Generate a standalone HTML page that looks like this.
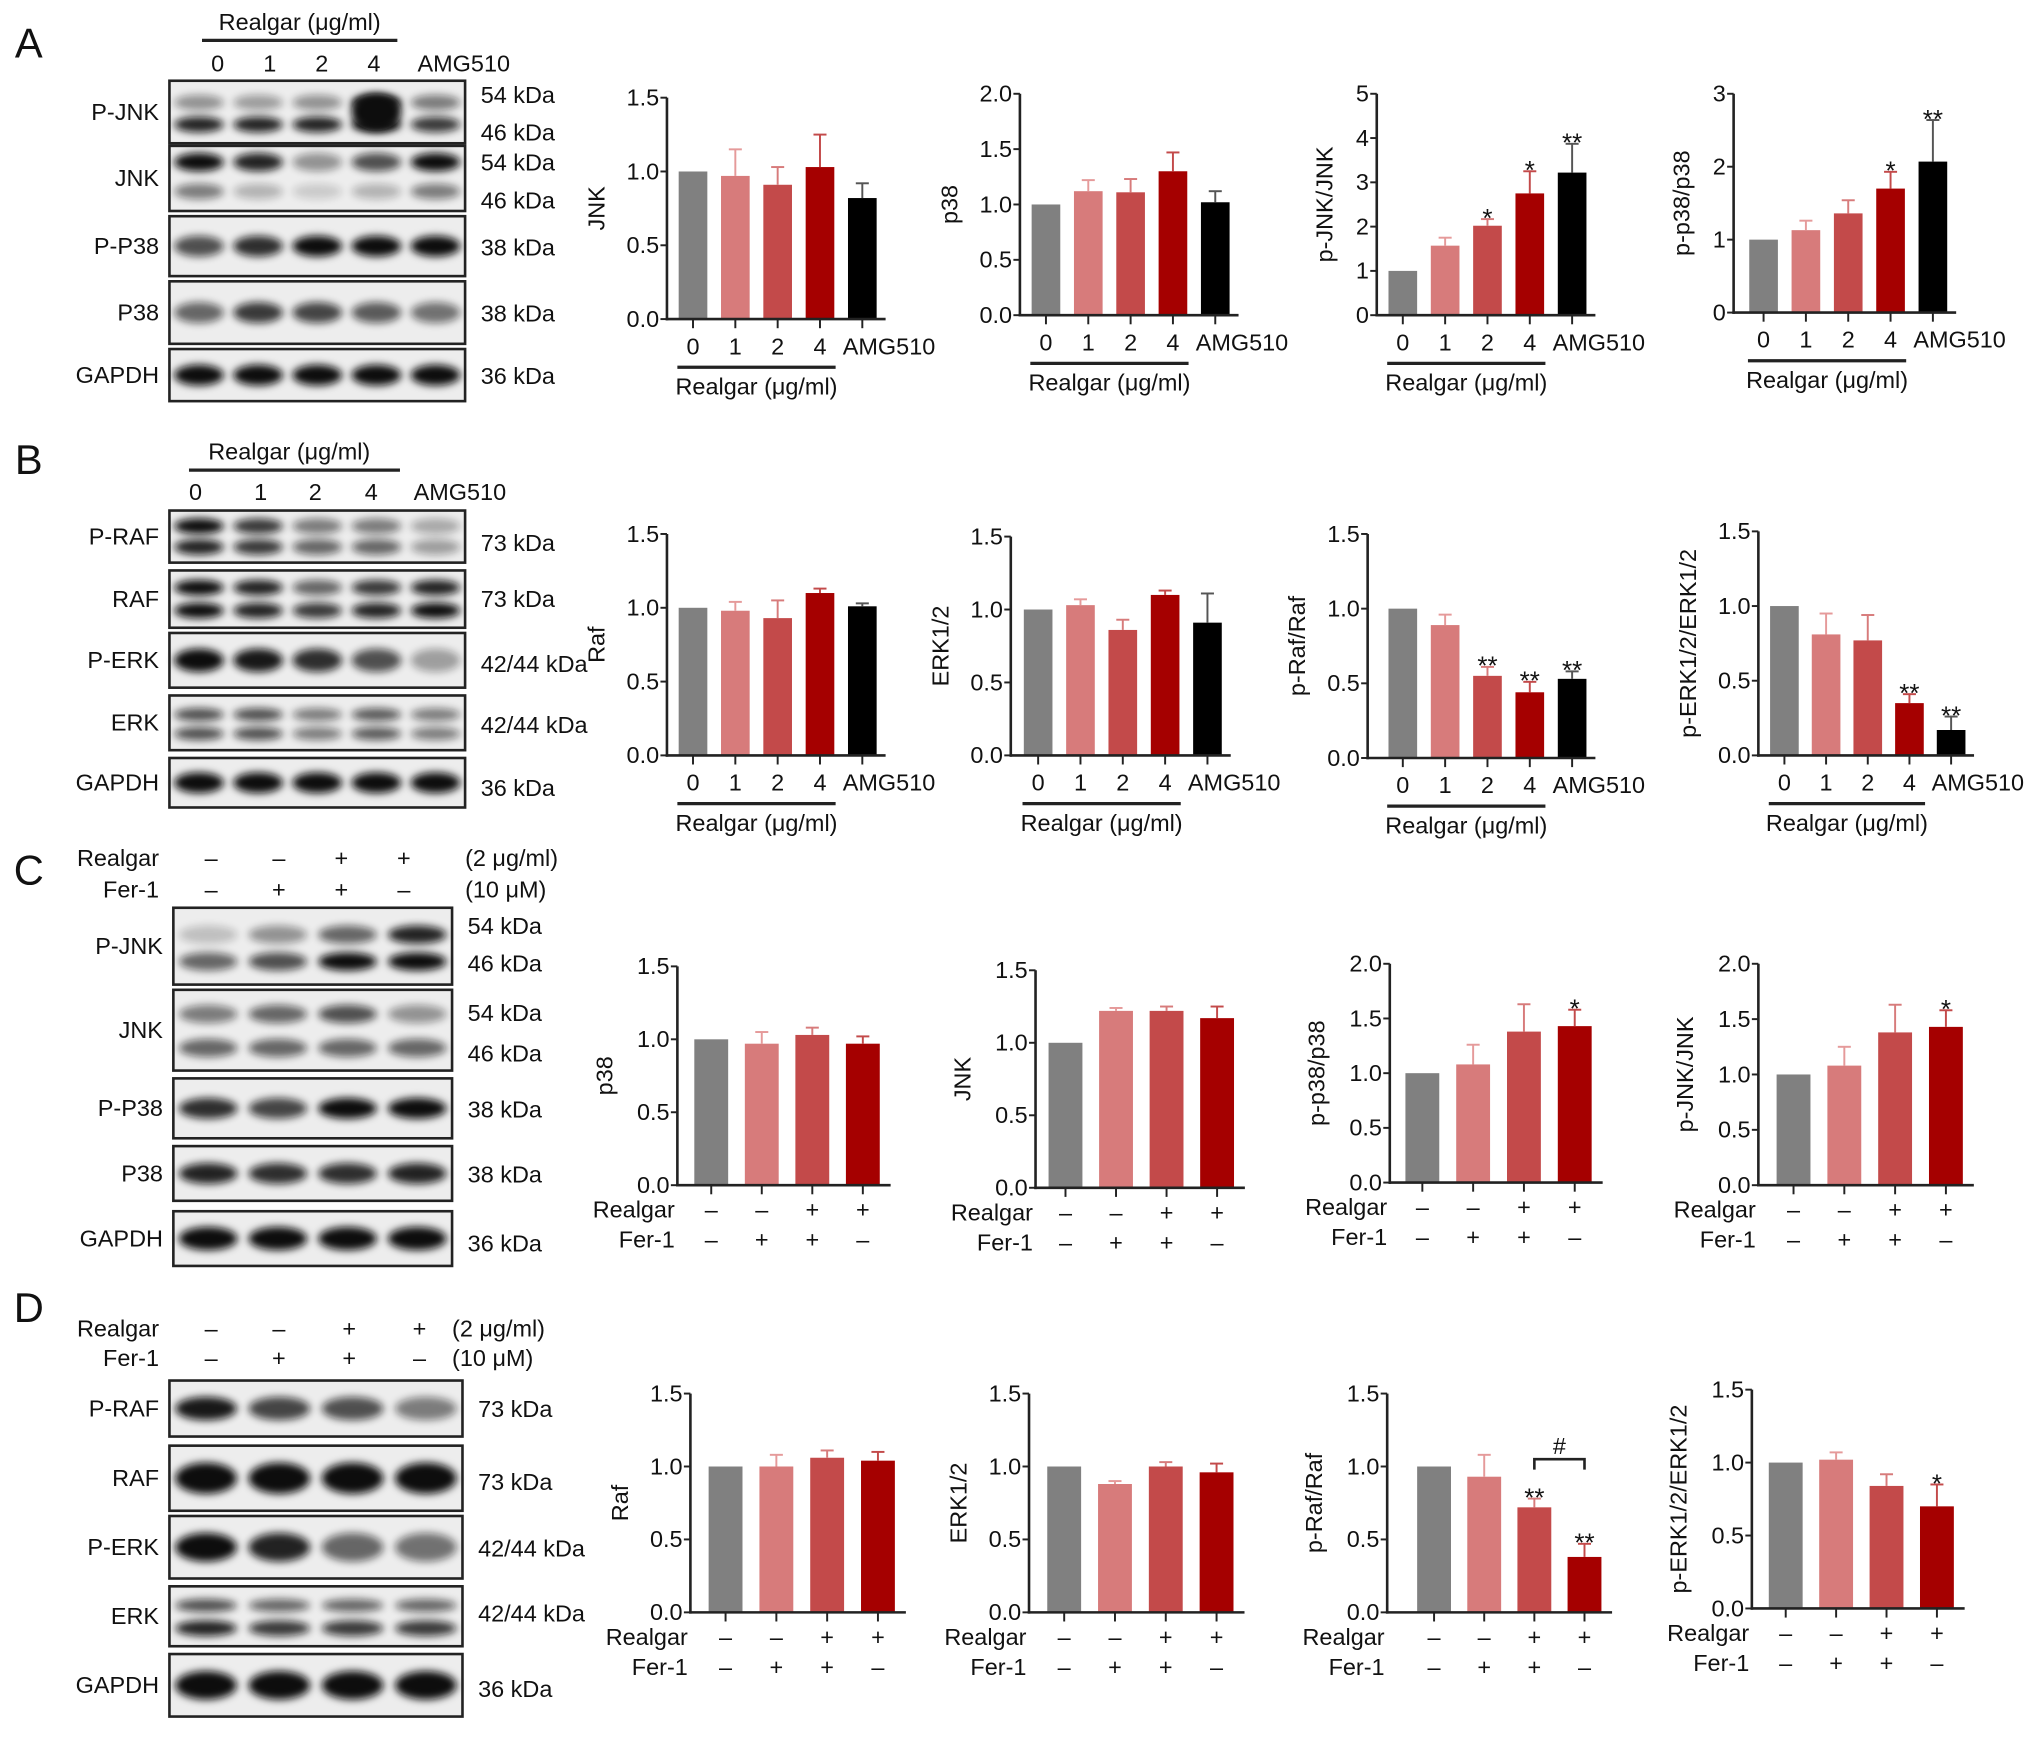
<!DOCTYPE html>
<html><head><meta charset="utf-8"><style>
html,body{margin:0;padding:0;background:#fff;}
svg{display:block;}
text{font-family:"Liberation Sans Narrow","Liberation Sans",sans-serif;fill:#111;}
</style></head><body>
<svg id="fig" width="2032" height="1740" viewBox="0 0 1560 1336" xmlns="http://www.w3.org/2000/svg">
<defs><filter id="blur" x="-30%" y="-80%" width="160%" height="260%"><feGaussianBlur stdDeviation="3"/></filter></defs>
</svg>
<script>
// ---- data ----
const doseCats = ['0','1','2','4','AMG510'];
const realgarSigns = ['–','–','+','+'];
const ferSigns = ['–','+','+','–'];
const aJnkVals=[1.0,0.97,0.91,1.03,0.82], aJnkErr=[0,0.18,0.12,0.22,0.1];
const aP38Vals=[1.0,1.12,1.11,1.3,1.02], aP38Err=[0,0.1,0.12,0.17,0.1];
const aPJnkVals=[1.0,1.57,2.02,2.75,3.22], aPJnkErr=[0,0.18,0.15,0.5,0.65], aPJnkStars=['','','*','*','**'];
const aPP38Vals=[1.0,1.13,1.36,1.7,2.07], aPP38Err=[0,0.13,0.18,0.23,0.57], aPP38Stars=['','','','*','**'];
const bRafVals=[1.0,0.98,0.93,1.1,1.01], bRafErr=[0,0.06,0.12,0.03,0.02];
const bErkVals=[1.0,1.03,0.86,1.1,0.91], bErkErr=[0,0.04,0.07,0.03,0.2];
const bPRafVals=[1.0,0.89,0.55,0.44,0.53], bPRafErr=[0,0.07,0.06,0.07,0.05], bPRafStars=['','','**','**','**'];
const bPErkVals=[1.0,0.81,0.77,0.35,0.17], bPErkErr=[0,0.14,0.17,0.06,0.09], bPErkStars=['','','','**','**'];
const cP38Vals=[1.0,0.97,1.03,0.97], cP38Err=[0,0.08,0.05,0.05];
const cJnkVals=[1.0,1.22,1.22,1.17], cJnkErr=[0,0.02,0.03,0.08];
const cPP38Vals=[1.0,1.08,1.38,1.43], cPP38Err=[0,0.18,0.25,0.15], cPP38Stars=['','','','*'];
const cPJnkVals=[1.0,1.08,1.38,1.43], cPJnkErr=[0,0.17,0.25,0.15], cPJnkStars=['','','','*'];
const dRafVals=[1.0,1.0,1.06,1.04], dRafErr=[0,0.08,0.05,0.06];
const dErkVals=[1.0,0.88,1.0,0.96], dErkErr=[0,0.02,0.03,0.06];
const dPRafVals=[1.0,0.93,0.72,0.38], dPRafErr=[0,0.15,0.06,0.09], dPRafStars=['','','**','**'];
const dPErkVals=[1.0,1.02,0.84,0.7], dPErkErr=[0,0.05,0.08,0.15], dPErkStars=['','','','*'];
const colors=['#808080','#d77b7b','#c34a4a','#a50000','#000000'];
const errColors=['#808080','#e59a9a','#d77b7b','#c34a4a','#555555'];

const svg=document.getElementById('fig');
const NS='http://www.w3.org/2000/svg';
const FS=18;
function mk(tag,attrs,parent,txt){const e=document.createElementNS(NS,tag);for(const k in attrs)e.setAttribute(k,attrs[k]);if(txt!==undefined)e.textContent=txt;(parent||svg).appendChild(e);return e;}
function txt(x,y,s,size,anchor,parent){return mk('text',{x:x,y:y,'font-size':size||FS,'text-anchor':anchor||'middle'},parent,s);}

// panel letters
[['A',22,44],['B',22,364],['C',22,679],['D',22,1015]].forEach(p=>{const t=txt(p[1],p[2],p[0],32,'middle');});

// ---- charts ----
function chart(c){
  const g=mk('g',{});
  
  
  const y=v=>c.yBot-(v/c.max)*(c.yBot-c.yTop);
  const step=c.step, bw=c.bw;
  const cx=i=>c.x0+c.off+i*step;
  const n=c.vals.length;
  c.vals.forEach((v,i)=>{
    const b=mk('rect',{x:cx(i)-bw/2,y:y(v),width:bw,height:c.yBot-y(v),fill:colors[i]},g);
    
    
    const e=c.errs[i];
    if(e>0){
      const ec=errColors[i];
      mk('line',{x1:cx(i),x2:cx(i),y1:y(v),y2:y(v+e),stroke:ec,'stroke-width':1.5},g);
      mk('line',{x1:cx(i)-5,x2:cx(i)+5,y1:y(v+e),y2:y(v+e),stroke:ec,'stroke-width':1.5},g);
    }
    if(c.stars&&c.stars[i]){
      const s=txt(cx(i),y(v+e)+6,c.stars[i],20,'middle',g);
      
      
    }
  });
  mk('line',{x1:c.x0,x2:c.x0,y1:c.yTop,y2:c.yBot+1,stroke:'#222','stroke-width':2},g);
  mk('line',{x1:c.x0-1,x2:cx(n-1)+step*0.55,y1:c.yBot,y2:c.yBot,stroke:'#222','stroke-width':2},g);
  c.ticks.forEach(t=>{
    mk('line',{x1:c.x0-5,x2:c.x0,y1:y(t),y2:y(t),stroke:'#222','stroke-width':1.5},g);
    txt(c.x0-6,y(t)+6,c.tickFmt(t),FS,'end',g);
  });
  for(let i=0;i<n;i++)mk('line',{x1:cx(i),x2:cx(i),y1:c.yBot,y2:c.yBot+7,stroke:'#222','stroke-width':1.5},g);
  const yt=txt(0,0,c.title,FS,'middle',g);
  yt.setAttribute('transform',`translate(${c.x0-c.titleOff},${(c.yTop+c.yBot)/2}) rotate(-90)`);
  
  
  if(c.type==='dose'){
    doseCats.forEach((s,i)=>{ if(i<4) txt(cx(i),c.yBot+27,s,FS,'middle',g); else txt(cx(i)-15,c.yBot+27,s,FS,'start',g);});
    mk('line',{x1:cx(0)-12,x2:cx(3)+12,y1:c.yBot+37,y2:c.yBot+37,stroke:'#222','stroke-width':2.5},g);
    txt((cx(0)+cx(3))/2,c.yBot+58,'Realgar (μg/ml)',FS,'middle',g);
  } else {
    txt(c.x0-2,c.yBot+25,'Realgar',FS,'end',g);
    txt(c.x0-2,c.yBot+48,'Fer-1',FS,'end',g);
    realgarSigns.forEach((s,i)=>txt(cx(i),c.yBot+25,s,FS,'middle',g));
    ferSigns.forEach((s,i)=>txt(cx(i),c.yBot+48,s,FS,'middle',g));
  }
  if(c.hash){
    const yb=y(1.05);
    mk('path',{d:`M${cx(2)} ${yb+8} V${yb} H${cx(3)} V${yb+8}`,fill:'none',stroke:'#222','stroke-width':2},g);
    txt((cx(2)+cx(3))/2,yb-4,'#',FS,'middle',g);
  }
}
const f1=t=>t.toFixed(1), f0=t=>String(t);
const t15=[0,0.5,1,1.5], t20=[0,0.5,1,1.5,2];
chart({name:'chart-a-jnk',type:'dose',x0:512,yTop:75,yBot:245,max:1.5,ticks:t15,tickFmt:f1,off:20,step:32.5,bw:22,vals:aJnkVals,errs:aJnkErr,title:'JNK',titleOff:48});
chart({name:'chart-a-p38',type:'dose',x0:783,yTop:72,yBot:242,max:2,ticks:t20,tickFmt:f1,off:20,step:32.5,bw:22,vals:aP38Vals,errs:aP38Err,title:'p38',titleOff:48});
chart({name:'chart-a-pjnk-jnk',type:'dose',x0:1057,yTop:72,yBot:242,max:5,ticks:[0,1,2,3,4,5],tickFmt:f0,off:20,step:32.5,bw:22,vals:aPJnkVals,errs:aPJnkErr,stars:aPJnkStars,title:'p-JNK/JNK',titleOff:34});
chart({name:'chart-a-pp38-p38',type:'dose',x0:1331,yTop:72,yBot:240,max:3,ticks:[0,1,2,3],tickFmt:f0,off:23,step:32.5,bw:22,vals:aPP38Vals,errs:aPP38Err,stars:aPP38Stars,title:'p-p38/p38',titleOff:34});
chart({name:'chart-b-raf',type:'dose',x0:512,yTop:410,yBot:580,max:1.5,ticks:t15,tickFmt:f1,off:20,step:32.5,bw:22,vals:bRafVals,errs:bRafErr,title:'Raf',titleOff:48});
chart({name:'chart-b-erk',type:'dose',x0:776,yTop:412,yBot:580,max:1.5,ticks:t15,tickFmt:f1,off:21,step:32.5,bw:22,vals:bErkVals,errs:bErkErr,title:'ERK1/2',titleOff:48});
chart({name:'chart-b-praf-raf',type:'dose',x0:1050,yTop:410,yBot:582,max:1.5,ticks:t15,tickFmt:f1,off:27,step:32.5,bw:22,vals:bPRafVals,errs:bPRafErr,stars:bPRafStars,title:'p-Raf/Raf',titleOff:48});
chart({name:'chart-b-perk-erk',type:'dose',x0:1350,yTop:408,yBot:580,max:1.5,ticks:t15,tickFmt:f1,off:20,step:32,bw:22,vals:bPErkVals,errs:bPErkErr,stars:bPErkStars,title:'p-ERK1/2/ERK1/2',titleOff:48});
chart({name:'chart-c-p38',type:'sign',x0:520,yTop:742,yBot:910,max:1.5,ticks:t15,tickFmt:f1,off:26,step:38.8,bw:26,vals:cP38Vals,errs:cP38Err,title:'p38',titleOff:50});
chart({name:'chart-c-jnk',type:'sign',x0:795,yTop:745,yBot:912,max:1.5,ticks:t15,tickFmt:f1,off:23,step:38.8,bw:26,vals:cJnkVals,errs:cJnkErr,title:'JNK',titleOff:50});
chart({name:'chart-c-pp38-p38',type:'sign',x0:1067,yTop:740,yBot:908,max:2,ticks:t20,tickFmt:f1,off:25,step:39,bw:26,vals:cPP38Vals,errs:cPP38Err,stars:cPP38Stars,title:'p-p38/p38',titleOff:50});
chart({name:'chart-c-pjnk-jnk',type:'sign',x0:1350,yTop:740,yBot:910,max:2,ticks:t20,tickFmt:f1,off:27,step:39,bw:26,vals:cPJnkVals,errs:cPJnkErr,stars:cPJnkStars,title:'p-JNK/JNK',titleOff:50});
chart({name:'chart-d-raf',type:'sign',x0:530,yTop:1070,yBot:1238,max:1.5,ticks:t15,tickFmt:f1,off:27,step:39,bw:26,vals:dRafVals,errs:dRafErr,title:'Raf',titleOff:48});
chart({name:'chart-d-erk',type:'sign',x0:790,yTop:1070,yBot:1238,max:1.5,ticks:t15,tickFmt:f1,off:27,step:39,bw:26,vals:dErkVals,errs:dErkErr,title:'ERK1/2',titleOff:48});
chart({name:'chart-d-praf-raf',type:'sign',x0:1065,yTop:1070,yBot:1238,max:1.5,ticks:t15,tickFmt:f1,off:36,step:38.5,bw:26,vals:dPRafVals,errs:dPRafErr,stars:dPRafStars,title:'p-Raf/Raf',titleOff:50,hash:true});
chart({name:'chart-d-perk-erk',type:'sign',x0:1345,yTop:1067,yBot:1235,max:1.5,ticks:t15,tickFmt:f1,off:26,step:38.7,bw:26,vals:dPErkVals,errs:dPErkErr,stars:dPErkStars,title:'p-ERK1/2/ERK1/2',titleOff:50});

// ---- western blots ----
function blot(name,x,y,w,h,lanes,bands,label,kdas){
  const g=mk('g',{});
  
  
  mk('rect',{x:x,y:y,width:w,height:h,fill:'#ededed'},g);
  const lw=w/lanes;
  bands.forEach(b=>{
    b[1].forEach((a,i)=>{
      mk('ellipse',{cx:x+lw*(i+0.5),cy:y+h*b[0],rx:lw*0.42,ry:b[2],fill:'#111',opacity:a,filter:'url(#blur)'},g);
    });
  });
  mk('rect',{x:x,y:y,width:w,height:h,fill:'none',stroke:'#222','stroke-width':2},g);
  txt(x-8,y+h/2+6,label,FS,'end',g);
  kdas.forEach(k=>txt(x+w+12,k[1],k[0],FS,'start',g));
}
txt(230,23,'Realgar (μg/ml)',FS,'middle');
mk('line',{x1:155,x2:305,y1:31,y2:31,stroke:'#222','stroke-width':2.5});
[['0',167],['1',207],['2',247],['4',287]].forEach(p=>txt(p[1],55,p[0],FS,'middle'));
txt(356,55,'AMG510',FS,'middle');
blot('blot-a-pjnk',130,62,227,48,5,[[0.35,[.4,.35,.4,1,.5],6],[0.7,[.9,.9,.9,1,.8],6],[0.5,[0,0,0,1,0],14]],'P-JNK',[['54 kDa',79],['46 kDa',108]]);
blot('blot-a-jnk',130,112,227,50,5,[[0.25,[1,.9,.4,.7,1],7],[0.7,[.5,.25,.15,.25,.5],6]],'JNK',[['54 kDa',131],['46 kDa',160]]);
blot('blot-a-pp38',130,166,227,46,5,[[0.5,[.7,.85,1,1,1],8]],'P-P38',[['38 kDa',196]]);
blot('blot-a-p38',130,216,227,48,5,[[0.5,[.6,.8,.75,.65,.55],8]],'P38',[['38 kDa',247]]);
blot('blot-a-gapdh',130,268,227,40,5,[[0.5,[1,1,1,1,1],8]],'GAPDH',[['36 kDa',295]]);
txt(222,353,'Realgar (μg/ml)',FS,'middle');
mk('line',{x1:145,x2:307,y1:361,y2:361,stroke:'#222','stroke-width':2.5});
[['0',150],['1',200],['2',242],['4',285]].forEach(p=>txt(p[1],384,p[0],FS,'middle'));
txt(353,384,'AMG510',FS,'middle');
blot('blot-b-praf',130,392,227,40,5,[[0.3,[1,.8,.5,.5,.3],6],[0.7,[.9,.8,.6,.6,.35],6]],'P-RAF',[['73 kDa',423]]);
blot('blot-b-raf',130,438,227,44,5,[[0.3,[1,.9,.6,.8,.9],6],[0.7,[1,.9,.8,.9,1],6]],'RAF',[['73 kDa',466]]);
blot('blot-b-perk',130,486,227,42,5,[[0.5,[1,.95,.85,.7,.35],9]],'P-ERK',[['42/44 kDa',516]]);
blot('blot-b-erk',130,534,227,42,5,[[0.35,[.7,.7,.5,.65,.5],5],[0.7,[.7,.7,.5,.65,.5],5]],'ERK',[['42/44 kDa',563]]);
blot('blot-b-gapdh',130,582,227,38,5,[[0.5,[1,1,1,1,1],8]],'GAPDH',[['36 kDa',611]]);
function signRows(y1,y2,xs,conc1,conc2,cx){
  txt(122,y1,'Realgar',FS,'end'); txt(122,y2,'Fer-1',FS,'end');
  realgarSigns.forEach((s,i)=>txt(xs[i],y1,s,FS,'middle'));
  ferSigns.forEach((s,i)=>txt(xs[i],y2,s,FS,'middle'));
  txt(cx,y1,conc1,FS,'start'); txt(cx,y2,conc2,FS,'start');
}
signRows(665,689,[162,214,262,310],'(2 μg/ml)','(10 μM)',357);
blot('blot-c-pjnk',133,697,214,59,4,[[0.35,[.2,.4,.6,.9],7],[0.7,[.6,.7,1,1],7]],'P-JNK',[['54 kDa',717],['46 kDa',746]]);
blot('blot-c-jnk',133,760,214,62,4,[[0.3,[.5,.6,.7,.4],7],[0.72,[.6,.6,.6,.6],7]],'JNK',[['54 kDa',784],['46 kDa',815]]);
blot('blot-c-pp38',133,828,214,46,4,[[0.5,[.85,.75,1,1],8]],'P-P38',[['38 kDa',858]]);
blot('blot-c-p38',133,880,214,42,4,[[0.5,[.9,.85,.85,.9],8]],'P38',[['38 kDa',908]]);
blot('blot-c-gapdh',133,930,214,42,4,[[0.5,[1,1,1,1],9]],'GAPDH',[['36 kDa',961]]);
signRows(1026,1049,[162,214,268,322],'(2 μg/ml)','(10 μM)',347);
blot('blot-d-praf',130,1060,225,43,4,[[0.5,[.95,.75,.7,.5],9]],'P-RAF',[['73 kDa',1088]]);
blot('blot-d-raf',130,1110,225,50,4,[[0.5,[1,1,1,1],12]],'RAF',[['73 kDa',1144]]);
blot('blot-d-perk',130,1164,225,48,4,[[0.5,[1,.9,.6,.55],11]],'P-ERK',[['42/44 kDa',1195]]);
blot('blot-d-erk',130,1218,225,46,4,[[0.32,[.7,.6,.6,.6],5],[0.7,[.9,.8,.8,.8],6]],'ERK',[['42/44 kDa',1245]]);
blot('blot-d-gapdh',130,1270,225,48,4,[[0.5,[1,1,1,1],11]],'GAPDH',[['36 kDa',1303]]);
</script>
</body></html>
